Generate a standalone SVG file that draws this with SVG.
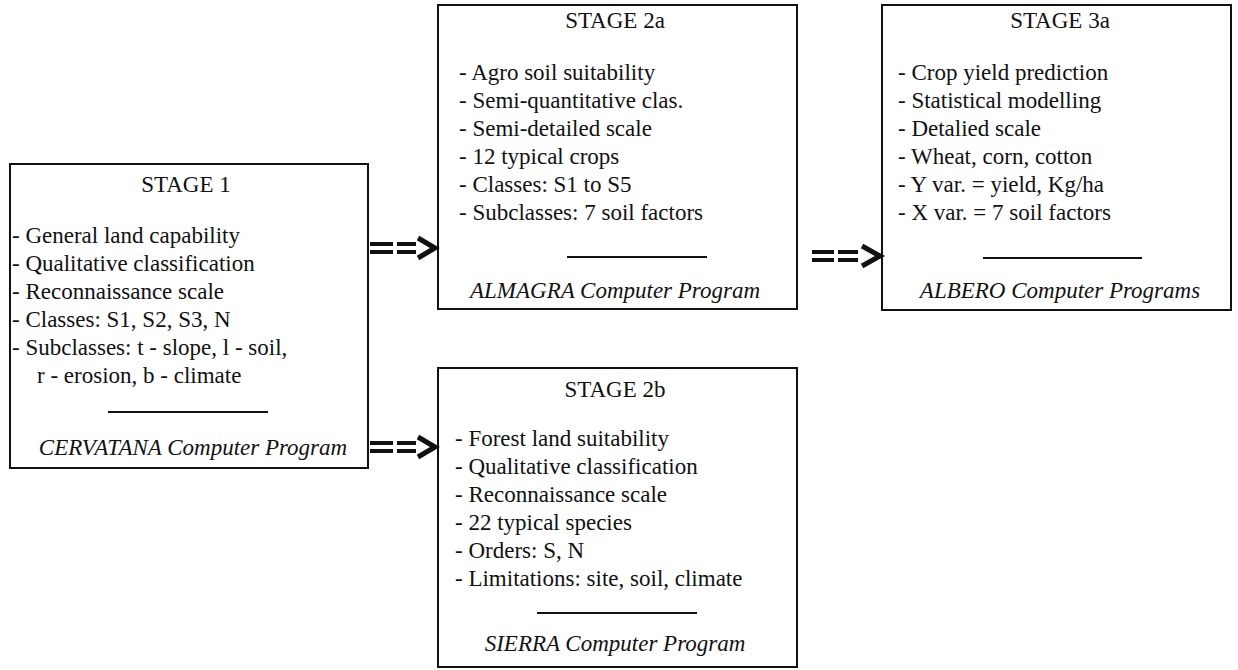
<svg xmlns="http://www.w3.org/2000/svg" width="1238" height="670" viewBox="0 0 1238 670">
<style>
.box{fill:#fff;stroke:#111;stroke-width:2}
.t{font-family:"Liberation Serif","Times New Roman",serif;font-size:23px;fill:#111}
.title{text-anchor:middle}
.prog{font-style:italic;text-anchor:middle}
.rule{stroke:#111;stroke-width:2}
.bar{stroke:#111;stroke-width:4}
.chev{fill:none;stroke:#111;stroke-width:5;stroke-linejoin:miter}
</style>
<rect width="1238" height="670" fill="#fff"/>
<g id="stage1">
<rect class="box" x="10" y="164" width="358" height="304"/>
<text class="t title" x="186" y="192">STAGE 1</text>
<text class="t" x="12" y="243">- General land capability</text>
<text class="t" x="12" y="271">- Qualitative classification</text>
<text class="t" x="12" y="299">- Reconnaissance scale</text>
<text class="t" x="12" y="327">- Classes: S1, S2, S3, N</text>
<text class="t" x="12" y="355">- Subclasses: t - slope, l - soil,</text>
<text class="t" x="37" y="383">r - erosion, b - climate</text>
<line class="rule" x1="108" y1="412" x2="268" y2="412"/>
<text class="t prog" x="193" y="455">CERVATANA Computer Program</text>
</g>
<g id="stage2a">
<rect class="box" x="438" y="5" width="359" height="304"/>
<text class="t title" x="615" y="28">STAGE 2a</text>
<text class="t" x="459" y="80">- Agro soil suitability</text>
<text class="t" x="459" y="108">- Semi-quantitative clas.</text>
<text class="t" x="459" y="136">- Semi-detailed scale</text>
<text class="t" x="459" y="164">- 12 typical crops</text>
<text class="t" x="459" y="192">- Classes: S1 to S5</text>
<text class="t" x="459" y="220">- Subclasses: 7 soil factors</text>
<line class="rule" x1="567" y1="257" x2="707" y2="257"/>
<text class="t prog" x="615" y="298">ALMAGRA  Computer Program</text>
</g>
<g id="stage3a">
<rect class="box" x="882" y="5" width="349" height="305"/>
<text class="t title" x="1060" y="28">STAGE 3a</text>
<text class="t" x="898" y="80">- Crop yield prediction</text>
<text class="t" x="898" y="108">- Statistical modelling</text>
<text class="t" x="898" y="136">- Detalied scale</text>
<text class="t" x="898" y="164">- Wheat, corn, cotton</text>
<text class="t" x="898" y="192">- Y var. = yield, Kg/ha</text>
<text class="t" x="898" y="220">- X var. = 7 soil factors</text>
<line class="rule" x1="983" y1="258" x2="1142" y2="258"/>
<text class="t prog" x="1060" y="298">ALBERO Computer Programs</text>
</g>
<g id="stage2b">
<rect class="box" x="438" y="368" width="359" height="299"/>
<text class="t title" x="615" y="397">STAGE 2b</text>
<text class="t" x="455" y="446">- Forest land suitability</text>
<text class="t" x="455" y="474">- Qualitative classification</text>
<text class="t" x="455" y="502">- Reconnaissance scale</text>
<text class="t" x="455" y="530">- 22 typical species</text>
<text class="t" x="455" y="558">- Orders: S, N</text>
<text class="t" x="455" y="586">- Limitations: site, soil, climate</text>
<line class="rule" x1="537" y1="613" x2="697" y2="613"/>
<text class="t prog" x="615" y="651">SIERRA Computer Program</text>
</g>
<g id="connectors">
<g transform="translate(370,248)">
<line class="bar" x1="0" y1="-4" x2="23" y2="-4"/><line class="bar" x1="0" y1="4" x2="23" y2="4"/>
<line class="bar" x1="27" y1="-4" x2="46" y2="-4"/><line class="bar" x1="27" y1="4" x2="46" y2="4"/>
<polyline class="chev" points="48,-10 65,0 48,10"/>
</g>
<g transform="translate(370,447)">
<line class="bar" x1="0" y1="-4" x2="23" y2="-4"/><line class="bar" x1="0" y1="4" x2="23" y2="4"/>
<line class="bar" x1="27" y1="-4" x2="46" y2="-4"/><line class="bar" x1="27" y1="4" x2="46" y2="4"/>
<polyline class="chev" points="48,-10 65,0 48,10"/>
</g>
<g transform="translate(812,256)">
<line class="bar" x1="0" y1="-4" x2="22" y2="-4"/><line class="bar" x1="0" y1="4" x2="22" y2="4"/>
<line class="bar" x1="26" y1="-4" x2="46" y2="-4"/><line class="bar" x1="26" y1="4" x2="46" y2="4"/>
<polyline class="chev" points="50,-10 68,0 50,10"/>
</g>
</g>
</svg>
